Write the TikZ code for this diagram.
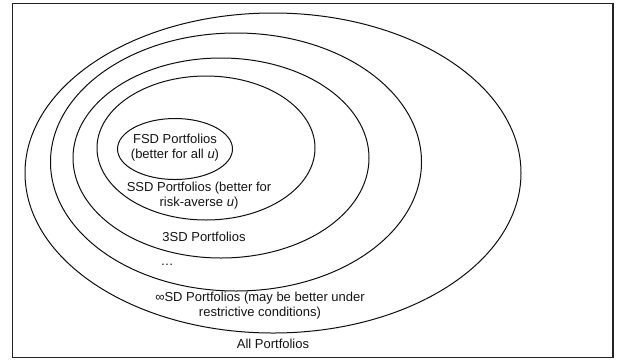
\documentclass[tikz,border=0pt]{standalone}
\usepackage{fontspec}
\setmainfont{Liberation Sans}
\usepackage{tikz}

\begin{document}
\begin{tikzpicture}[x=1pt,y=-1pt,
  ring/.style={draw={rgb,255:red,15;green,15;blue,15},line width=1pt},
  label/.style={inner sep=0pt,outer sep=0pt,align=center,text={rgb,255:red,20;green,20;blue,20},font=\fontsize{13}{15}\selectfont}]
\path[use as bounding box] (0,0) rectangle (629,360);
\path[fill=white,draw=none] (0,0) rectangle (629,360);
\draw[draw={rgb,255:red,35;green,35;blue,35},line width=1.3pt] (12.7,3.3) rectangle (613,357.5);
% nested sets, outermost first
\draw[ring] (273,173) ellipse [x radius=248,y radius=160];
\draw[ring] (236,162) ellipse [x radius=185.5,y radius=129];
\draw[ring] (221,158) ellipse [x radius=148,y radius=100];
\draw[ring] (206,148) ellipse [x radius=109,y radius=72];
\draw[ring] (175,149) ellipse [x radius=57.5,y radius=30.5];
% texts
\node[label] (fsd) at (175,148) {FSD Portfolios\\(better for all \textit{u})};
\node[label] (ssd) at (199,196) {SSD Portfolios (better for\\risk-averse \textit{u})};
\node[label] (tsd) at (204,237) {3SD Portfolios};
\node[label] (dots) at (167,265) {\dots};
\node[label] (isd) at (260,306) {∞SD Portfolios (may be better under\\restrictive conditions)};
\node[label] (all) at (273,343.5) {All Portfolios};
\end{tikzpicture}
\end{document}
